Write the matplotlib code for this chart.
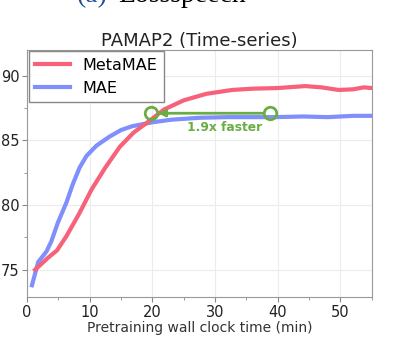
import matplotlib
matplotlib.use('Agg')
import matplotlib.pyplot as plt
from matplotlib.ticker import MultipleLocator

# wall clock time (min) / accuracy
mae_t = [0.8, 1.8, 3.1, 3.9, 4.9, 6.3, 7.3, 8.4, 9.5, 11.1, 13.2, 15.0, 16.8, 20.0,
         23.0, 27.5, 32.0, 36.0, 39.7, 44.0, 48.0, 52.0, 55.0]
mae_acc = [73.8, 75.6, 76.4, 77.2, 78.6, 80.2, 81.6, 82.9, 83.8, 84.6, 85.3, 85.8, 86.1, 86.4,
           86.6, 86.75, 86.8, 86.8, 86.8, 86.85, 86.8, 86.9, 86.9]

meta_t = [1.3, 2.2, 3.3, 4.8, 6.3, 8.4, 10.3, 12.5, 14.8, 17.0, 19.5, 21.9, 25.0, 28.6,
          32.7, 36.0, 40.0, 44.4, 47.0, 49.7, 52.0, 53.7, 55.0]
meta_acc = [75.0, 75.4, 75.9, 76.5, 77.6, 79.4, 81.2, 82.9, 84.5, 85.6, 86.5, 87.4, 88.1, 88.6,
            88.9, 89.0, 89.05, 89.2, 89.1, 88.9, 88.95, 89.1, 89.05]

speedup_from = (38.7, 87.1)
speedup_to = (19.8, 87.1)
speedup_label = '1.9x faster'

red = '#f7617a'
blue = '#7f8ffb'
green = '#6aad45'

fig = plt.figure(figsize=(4.02, 3.37), dpi=100)
ax = fig.add_axes([0.067, 0.119, 0.858, 0.733])

ax.plot(meta_t, meta_acc, color=red, lw=3, label='MetaMAE', zorder=3)
ax.plot(mae_t, mae_acc, color=blue, lw=3, label='MAE', zorder=2)

# speedup annotation
ax.annotate('', xy=speedup_to, xytext=speedup_from,
            arrowprops=dict(arrowstyle='-|>', color=green, lw=2, mutation_scale=10,
                            shrinkA=5, shrinkB=5), zorder=5)
ax.plot([speedup_from[0], speedup_to[0]], [speedup_from[1], speedup_to[1]], 'o',
        ms=9, mfc='none', mec=green, mew=2, zorder=6)
ax.text(31.6, speedup_from[1] - 0.6, speedup_label,
        color=green, fontsize=8.8, fontweight='bold', ha='center', va='top')

ax.set_xlim(0, 55)
ax.set_ylim(72.9, 92.0)
ax.xaxis.set_major_locator(MultipleLocator(10))
ax.xaxis.set_minor_locator(MultipleLocator(5))
ax.yaxis.set_major_locator(MultipleLocator(5))
ax.yaxis.set_minor_locator(MultipleLocator(2.5))
ax.grid(True, which='major', color='#ececec', lw=0.8)
ax.set_axisbelow(True)
for s in ax.spines.values():
    s.set_color('#999999')
ax.tick_params(which='both', colors='#888888', labelcolor='#222222', labelsize=10.5)
ax.tick_params(which='major', length=3.5, pad=2)
ax.tick_params(which='minor', length=2.5)

ax.set_title('PAMAP2 (Time-series)', fontsize=13, color='#222222', pad=3)
ax.set_xlabel('Pretraining wall clock time (min)', fontsize=10, color='#333333', labelpad=1)

leg = ax.legend(loc='upper left', fontsize=11.5, fancybox=False, edgecolor='#888888',
                borderaxespad=0.1, handlelength=2.2, framealpha=1)
leg.get_frame().set_linewidth(1)

# clipped caption of the panel above (cut off in the reference too)
fig.text(0.19, 0.994, '(a)', fontsize=20, family='Liberation Serif', color='#1f4e9a',
         va='baseline')
fig.text(0.295, 0.994, 'Lossspeech', fontsize=20, family='Liberation Serif', color='black',
         va='baseline')

fig.savefig('out.png', dpi=100)
